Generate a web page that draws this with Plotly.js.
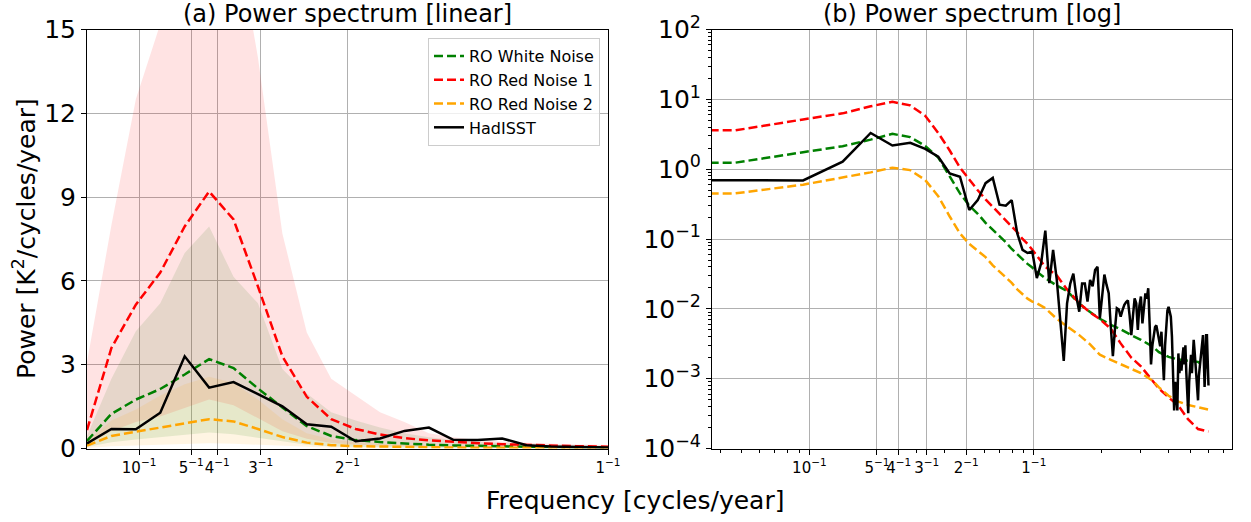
<!DOCTYPE html>
<html>
<head>
<meta charset="utf-8">
<script src="https://cdn.plot.ly/plotly-3.0.1.min.js"></script>
<style>
html,body{margin:0;padding:0;background:#fff;}
#chart{width:1251px;height:522px;}
</style>
</head>
<body>
<div id="chart"></div>
<script>
// ---------------- data ----------------
// Welch frequency bin width (cycles/year); bin k sits at k*DF
const DF = 12 / 256;

// HadISST power spectrum, bins k = 0..128
const hadisst = [
  0.18, 0.70, 0.69, 1.28, 3.3, 2.18, 2.38, 1.95, 1.51, 0.87,
  0.78, 0.26, 0.36, 0.63, 0.75, 0.31, 0.30, 0.36, 0.12, 0.070,
  0.063, 0.066, 0.0275, 0.045, 0.132, 0.0233, 0.070, 0.026, 0.0069, 0.0018,
  0.012, 0.023, 0.032, 0.015, 0.0091, 0.023, 0.023, 0.0127, 0.026, 0.021,
  0.036, 0.040, 0.0073, 0.015, 0.031, 0.022, 0.0167, 0.0055, 0.0021, 0.005,
  0.0102, 0.0098, 0.0077, 0.0096, 0.0114, 0.0125, 0.0132, 0.008, 0.0042, 0.008,
  0.0141, 0.012, 0.005, 0.011, 0.015, 0.0062, 0.011, 0.0167, 0.014, 0.0197,
  0.006, 0.0016, 0.003, 0.0045, 0.0055, 0.0058, 0.0045, 0.0035, 0.0029, 0.0047,
  0.002, 0.00095, 0.003, 0.006, 0.0095, 0.0107, 0.009, 0.0077, 0.004, 0.0012,
  0.00035, 0.0009, 0.0005, 0.00035, 0.0023, 0.0012, 0.0018, 0.0013, 0.002, 0.0028,
  0.0016, 0.003, 0.0012, 0.0006, 0.00032, 0.0009, 0.0015, 0.0022, 0.0012, 0.002,
  0.0036, 0.0025, 0.0016, 0.0012, 0.0008, 0.00049, 0.0011, 0.0014, 0.0018, 0.0025,
  0.0032, 0.0042, 0.002, 0.00076, 0.0015, 0.0042, 0.0042, 0.0015, 0.0008
];

// model ensemble-mean spectra, read at these bins
const modelK = [0,1,2,3,4,5,6,7,8,9,10,11,12,13,14,15,16,17,18,19,20,21,22,
                24,27,30,34,38,42,47,52,58,64,72,77,85,94,104,115,128];
const whiteNoise = [0.27,1.24,1.75,2.13,2.65,3.2,2.88,2.15,1.47,0.8,0.45,0.3,0.23,0.17,0.135,0.11,0.09,0.072,0.06,0.051,0.044,0.039,0.034,
                    0.0275,0.0215,0.018,0.0118,0.009,0.0072,0.0059,0.0051,0.0042,0.0036,0.0029,0.0024,0.00205,0.00188,0.0018,0.00174,0.0014];
const redNoise1  = [0.66,3.6,5.15,6.3,7.95,9.2,8.2,5.8,3.3,1.85,1.05,0.7,0.5,0.37,0.29,0.23,0.19,0.155,0.125,0.1,0.085,0.07,0.058,
                    0.040,0.030,0.019,0.012,0.0089,0.0071,0.0052,0.0032,0.0020,0.0015,0.00095,0.00072,0.00054,0.00041,0.00026,0.00019,0.000175];
const redNoise2  = [0.1,0.45,0.6,0.76,0.9,1.05,0.97,0.7,0.41,0.21,0.12,0.085,0.068,0.055,0.042,0.034,0.028,0.0235,0.019,0.016,0.014,0.0127,0.012,
                    0.0102,0.0072,0.0056,0.0042,0.0031,0.0022,0.00186,0.0016,0.00137,0.0012,0.00094,0.00075,0.00057,0.00047,0.00042,0.00039,0.00036];

// ensemble spread bands (linear panel), bins k = 0..22
const bandK = [0,1,2,3,4,5,6,7,8,9,10,11,12,13,14,15,16,17,18,19,20,21,22];
const whiteLo = [0.05,0.22,0.32,0.4,0.48,0.57,0.51,0.38,0.26,0.13,0.07,0.055,0.043,0.033,0.026,0.021,0.017,0.014,0.012,0.01,0.0085,0.007,0.006];
const whiteHi = [0.45,2.5,4.2,5.2,7.0,7.95,6.15,5.2,2.85,1.97,1.3,1.0,0.75,0.55,0.4,0.3,0.24,0.19,0.15,0.12,0.1,0.09,0.08];
const red1Lo  = [0.12,0.62,0.95,1.15,1.45,1.75,1.55,1.1,0.62,0.35,0.2,0.13,0.1,0.075,0.06,0.05,0.04,0.032,0.025,0.02,0.016,0.013,0.011];
const red1Hi  = [3.1,8.0,12.5,15.2,19,21,19,14,7.7,4.15,2.5,1.9,1.3,0.95,0.55,0.4,0.3,0.24,0.2,0.17,0.14,0.13,0.12];
const red2Lo  = [0.02,0.08,0.11,0.14,0.17,0.19,0.17,0.13,0.08,0.04,0.025,0.017,0.013,0.01,0.008,0.006,0.005,0.004,0.0035,0.003,0.0025,0.002,0.0018];
const red2Hi  = [0.25,1.0,1.4,1.9,2.3,2.57,2.35,1.75,1.05,0.55,0.33,0.22,0.17,0.13,0.1,0.08,0.065,0.055,0.045,0.038,0.033,0.03,0.027];

// tick labels
const periods  = [10, 5, 4, 3, 2, 1];
const linTicks = [0, 3, 6, 9, 12, 15];
const logExps  = [-4, -3, -2, -1, 0, 1, 2];

// ---------------- layout constants ----------------
const W = 1251, H = 522;
const FONT = 'DejaVu Sans';
const XR2 = [-1.434, 0.883];               // log10 range of right panel
const px = v => v / W, py = v => 1 - v / H;

const obsF  = hadisst.map((_, k) => k * DF);
const modF  = modelK.map(k => k * DF);
const bandF = bandK.map(k => k * DF);

const C = {white: '#008000', red1: '#ff0000', red2: '#ffa500', obs: '#000000'};
const FILL = {white: 'rgba(0,128,0,0.11)', red1: 'rgba(255,0,0,0.11)', red2: 'rgba(255,165,0,0.11)'};
const DASH = '9px,4px';

const traces = [];
// bands
[[whiteLo, whiteHi, FILL.white], [red1Lo, red1Hi, FILL.red1], [red2Lo, red2Hi, FILL.red2]].forEach(([lo, hi, fc]) => {
  traces.push({x: bandF, y: lo, mode: 'lines', line: {width: 0}, showlegend: false, hoverinfo: 'skip', xaxis: 'x', yaxis: 'y'});
  traces.push({x: bandF, y: hi, mode: 'lines', line: {width: 0}, fill: 'tonexty', fillcolor: fc, showlegend: false, hoverinfo: 'skip', xaxis: 'x', yaxis: 'y'});
});

const models = [
  ['RO White Noise', whiteNoise, C.white],
  ['RO Red Noise 1', redNoise1, C.red1],
  ['RO Red Noise 2', redNoise2, C.red2]
];
// left panel lines
models.forEach(([name, vals, col]) => {
  const idx = modF.map((f, i) => i).filter(i => modF[i] <= 1.2);
  traces.push({x: idx.map(i => modF[i]), y: idx.map(i => vals[i]), name: name, mode: 'lines',
    line: {color: col, width: 2.5, dash: DASH}, xaxis: 'x', yaxis: 'y', legendgroup: name});
});
{
  const idx = obsF.map((f, i) => i).filter(i => obsF[i] <= 1.05);
  traces.push({x: idx.map(i => obsF[i]), y: idx.map(i => hadisst[i]), name: 'HadISST', mode: 'lines',
    line: {color: C.obs, width: 2.5}, xaxis: 'x', yaxis: 'y', legendgroup: 'HadISST'});
}
// right panel lines (zero-frequency bin runs off the log axis to the left)
const xOff = Math.pow(10, XR2[0] - 0.3);
models.forEach(([name, vals, col]) => {
  traces.push({x: [xOff].concat(modF.slice(1)), y: [vals[1]].concat(vals.slice(1)), mode: 'lines',
    line: {color: col, width: 2.5, dash: DASH}, xaxis: 'x2', yaxis: 'y2', showlegend: false, hoverinfo: 'skip'});
});
traces.push({x: [xOff].concat(obsF.slice(1)), y: [hadisst[1]].concat(hadisst.slice(1)), mode: 'lines',
  line: {color: C.obs, width: 2.5}, xaxis: 'x2', yaxis: 'y2', showlegend: false, hoverinfo: 'skip'});

// ticks
const freqTickVals = periods.map(p => 1 / p);
const freqTickText = periods.map(p => p + '<sup>\u22121</sup>');
const minorX = [];
[-2, -1, 0].forEach(d => { for (let m = 2; m <= 9; m++) minorX.push(m * Math.pow(10, d)); });
const minorY = [];
logExps.slice(0, -1).forEach(d => { for (let m = 2; m <= 9; m++) minorY.push(m * Math.pow(10, d)); });

const axBase = {
  showline: true, linecolor: '#000', linewidth: 1, mirror: true,
  ticks: 'outside', ticklen: 5, tickwidth: 1, tickcolor: '#000',
  showgrid: true, gridcolor: '#b0b0b0', gridwidth: 1, zeroline: false,
  fixedrange: true
};

const yTop = 29.5, yBot = 448.5;
const layout = {
  width: W, height: H,
  margin: {l: 0, r: 0, t: 0, b: 0},
  paper_bgcolor: '#fff', plot_bgcolor: '#fff',
  font: {family: FONT, color: '#000'},
  showlegend: true,
  legend: {
    x: px(600), y: py(38), xanchor: 'right', yanchor: 'top',
    bgcolor: 'rgba(255,255,255,0.8)', bordercolor: '#cccccc', borderwidth: 1,
    font: {family: FONT, size: 16, color: '#000'}, itemwidth: 30, tracegroupgap: 0
  },
  xaxis: Object.assign({}, axBase, {
    domain: [px(87), px(608)], range: [0, 1], anchor: 'y',
    tickmode: 'array', tickvals: freqTickVals, ticktext: freqTickText, tickangle: 0,
    tickfont: {family: FONT, size: 15}
  }),
  yaxis: Object.assign({}, axBase, {
    domain: [py(yBot), py(yTop)], range: [0, 15], anchor: 'x',
    tickmode: 'array', tickvals: linTicks, ticktext: linTicks.map(String),
    tickfont: {family: FONT, size: 25}
  }),
  xaxis2: Object.assign({}, axBase, {
    type: 'log', domain: [px(712), px(1232)], range: XR2, anchor: 'y2',
    tickmode: 'array', tickvals: freqTickVals, ticktext: freqTickText, tickangle: 0,
    tickfont: {family: FONT, size: 15},
    minor: {tickmode: 'array', tickvals: minorX, ticks: 'outside', ticklen: 3, tickwidth: 1, tickcolor: '#000', showgrid: false}
  }),
  yaxis2: Object.assign({}, axBase, {
    type: 'log', domain: [py(yBot), py(yTop)], range: [logExps[0], logExps[logExps.length - 1]], anchor: 'x2',
    tickmode: 'array', tickvals: logExps.map(e => Math.pow(10, e)),
    ticktext: logExps.map(e => '10<sup>' + (e < 0 ? '\u2212' + (-e) : e) + '</sup>'),
    tickfont: {family: FONT, size: 25},
    minor: {tickmode: 'array', tickvals: minorY, ticks: 'outside', ticklen: 3, tickwidth: 1, tickcolor: '#000', showgrid: false}
  }),
  annotations: [
    {text: '(a) Power spectrum [linear]', xref: 'paper', yref: 'paper', x: px(347.5), y: py(14),
     xanchor: 'center', yanchor: 'middle', showarrow: false, font: {family: FONT, size: 24}},
    {text: '(b) Power spectrum [log]', xref: 'paper', yref: 'paper', x: px(972), y: py(14),
     xanchor: 'center', yanchor: 'middle', showarrow: false, font: {family: FONT, size: 24}},
    {text: 'Frequency [cycles/year]', xref: 'paper', yref: 'paper', x: px(635), y: py(500),
     xanchor: 'center', yanchor: 'middle', showarrow: false, font: {family: FONT, size: 25}},
    {text: 'Power [K<sup>2</sup>/cycles/year]', xref: 'paper', yref: 'paper', x: px(24), y: py(239),
     xanchor: 'center', yanchor: 'middle', textangle: -90, showarrow: false, font: {family: FONT, size: 25}}
  ]
};

Plotly.newPlot('chart', traces, layout, {staticPlot: true, displayModeBar: false});
</script>
</body>
</html>
